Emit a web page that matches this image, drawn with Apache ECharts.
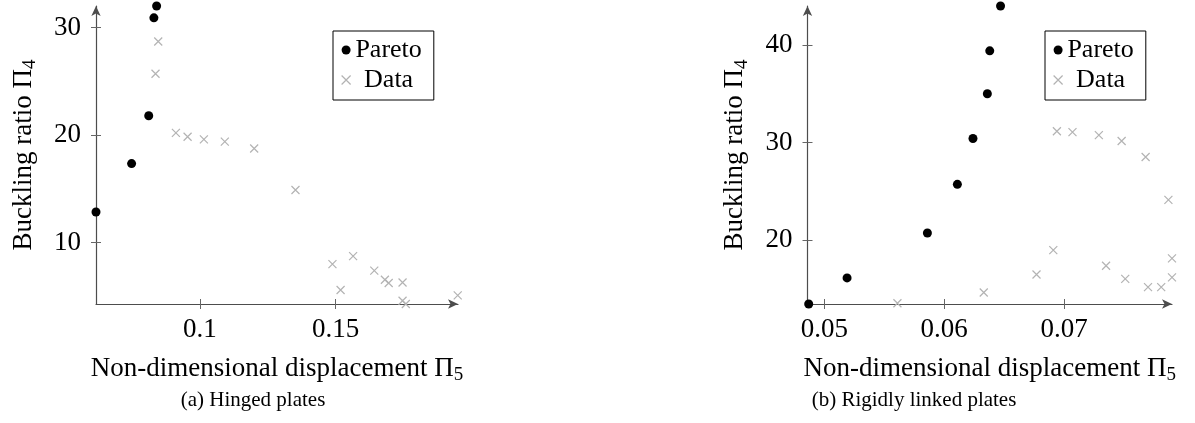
<!DOCTYPE html>
<html>
<head>
<meta charset="utf-8">
<script src="https://cdn.jsdelivr.net/npm/echarts@6/dist/echarts.min.js"></script>
<style>
  html, body { margin: 0; padding: 0; background: #fff; }
  #chart { width: 1195px; height: 423px; }
</style>
</head>
<body>
<div id="chart"></div>
<script>
// (a) hinged plates
const paretoAx = [0.0618, 0.0749, 0.0812, 0.0831, 0.0841];
const paretoAy = [12.85, 17.35, 21.8, 30.9, 32.0];
const dataAx = [0.0847, 0.0837, 0.0912, 0.0955, 0.1015, 0.1092, 0.1200, 0.1352, 0.1488, 0.1564,
                0.1518, 0.1642, 0.1681, 0.1695, 0.1746, 0.1746, 0.1758, 0.1949];
const dataAy = [28.7, 25.7, 20.2, 19.85, 19.6, 19.4, 18.75, 14.9, 8.0, 8.75,
                5.6, 7.4, 6.55, 6.25, 6.3, 4.6, 4.3, 5.1];

// (b) rigidly linked plates
const paretoBx = [0.0487, 0.0519, 0.0586, 0.0611, 0.0624, 0.0636, 0.0638, 0.0647];
const paretoBy = [13.42, 16.1, 20.7, 25.7, 30.4, 35.0, 39.4, 44.0];
const dataBx = [0.0561, 0.0633, 0.0677, 0.0691, 0.0694, 0.0707, 0.0729, 0.0735, 0.0748, 0.0751,
                0.0768, 0.0770, 0.0781, 0.0787, 0.0790, 0.0790];
const dataBy = [13.5, 14.6, 16.45, 18.95, 31.15, 31.05, 30.75, 17.35, 30.15, 16.0,
                28.5, 15.15, 15.15, 24.1, 18.1, 16.15];

// tick labels
const xTicksA = [0.1, 0.15];
const yTicksA = [10, 20, 30];
const xTicksB = [0.05, 0.06, 0.07];
const yTicksB = [20, 30, 40];

const seriesNames = ['Pareto', 'Data'];
const captions = ['(a) Hinged plates', '(b) Rigidly linked plates'];
const xName = 'Non-dimensional displacement Π';
const yName = 'Buckling ratio Π';

const FONT = '"Liberation Serif", "DejaVu Serif", serif';
const AXIS_COLOR = '#4d4d4d';
const CROSS = 'path://M0,0L10,10M10,0L0,10';
const GRAY = '#b3b3b3';

const chart = echarts.init(document.getElementById('chart'));

const zip = (xs, ys) => xs.map((x, i) => [x, ys[i]]);

function mainX(grid, min, max, ticks) {
    return {
        type: 'value', gridIndex: grid, min: min, max: max, position: 'bottom',
        name: '{a|' + xName + '}{b|5}', nameLocation: 'middle', nameGap: 48,
        nameTextStyle: {
            rich: {
                a: { fontFamily: FONT, fontSize: 27, color: '#000' },
                b: { fontFamily: FONT, fontSize: 19, color: '#000', padding: [14, 0, 0, 0] }
            }
        },
        axisLine: { show: true, lineStyle: { color: AXIS_COLOR, width: 1.2 }, symbol: ['none', 'arrow'], symbolSize: [7, 10] },
        axisTick: { show: true, length: 5, customValues: ticks, lineStyle: { color: '#666' } },
        axisLabel: { customValues: ticks, fontFamily: FONT, fontSize: 27, color: '#000', margin: 12 },
        splitLine: { show: false }
    };
}
function innerX(grid, min, max, ticks) {
    return {
        type: 'value', gridIndex: grid, min: min, max: max, position: 'bottom',
        axisLine: { show: false },
        axisTick: { show: true, inside: true, length: 5, customValues: ticks, lineStyle: { color: '#666' } },
        axisLabel: { show: false },
        splitLine: { show: false }
    };
}
function mainY(grid, min, max, ticks) {
    return {
        type: 'value', gridIndex: grid, min: min, max: max, position: 'left',
        name: '{a|' + yName + '}{b|4}', nameLocation: 'middle', nameGap: 56,
        nameTextStyle: {
            rich: {
                a: { fontFamily: FONT, fontSize: 27, color: '#000' },
                b: { fontFamily: FONT, fontSize: 19, color: '#000', padding: [14, 0, 0, 0] }
            }
        },
        axisLine: { show: true, lineStyle: { color: AXIS_COLOR, width: 1.2 }, symbol: ['none', 'arrow'], symbolSize: [7, 10] },
        axisTick: { show: true, length: 5, customValues: ticks, lineStyle: { color: '#666' } },
        axisLabel: { customValues: ticks, fontFamily: FONT, fontSize: 27, color: '#000', margin: 15 },
        splitLine: { show: false }
    };
}
function innerY(grid, min, max, ticks) {
    return {
        type: 'value', gridIndex: grid, min: min, max: max, position: 'left',
        axisLine: { show: false },
        axisTick: { show: true, inside: true, length: 5, customValues: ticks, lineStyle: { color: '#666' } },
        axisLabel: { show: false },
        splitLine: { show: false }
    };
}
function legendAt(left) {
    return {
        left: left, top: 31, orient: 'vertical', selectedMode: false,
        borderColor: '#000', borderWidth: 1, borderRadius: 0,
        padding: [6, 12, 7, 8], itemWidth: 9, itemHeight: 9, itemGap: 4,
        formatter: '{t|{name}}',
        textStyle: { fontFamily: FONT, fontSize: 26, color: '#000',
                     rich: { t: { fontFamily: FONT, fontSize: 26, width: 66, align: 'center' } } },
        data: [
            { name: seriesNames[0], icon: 'circle', itemStyle: { color: '#000', opacity: 1 } },
            { name: seriesNames[1], icon: CROSS, itemStyle: { color: 'transparent', borderColor: GRAY, borderWidth: 1.2, opacity: 1 } }
        ]
    };
}
function paretoSeries(x, y) {
    return { name: seriesNames[0], type: 'scatter', xAxisIndex: x, yAxisIndex: y, clip: false,
             symbol: 'circle', symbolSize: 9, itemStyle: { color: '#000', opacity: 1 }, z: 3 };
}
function dataSeries(x, y) {
    return { name: seriesNames[1], type: 'scatter', xAxisIndex: x, yAxisIndex: y, clip: false,
             symbol: CROSS, symbolSize: 8,
             itemStyle: { color: 'transparent', borderColor: GRAY, borderWidth: 1.2, opacity: 1 }, z: 2 };
}

const option = {
    animation: false,
    backgroundColor: '#fff',
    grid: [
        { left: 96, top: 6, width: 362, height: 298 },
        { left: 807.5, top: 6, width: 364.5, height: 298 }
    ],
    xAxis: [
        mainX(0, 0.0618, 0.195, xTicksA), innerX(0, 0.0618, 0.195, xTicksA),
        mainX(1, 0.0486, 0.0790, xTicksB), innerX(1, 0.0486, 0.0790, xTicksB)
    ],
    yAxis: [
        mainY(0, 4.3, 32.0, yTicksA), innerY(0, 4.3, 32.0, yTicksA),
        mainY(1, 13.42, 44.0, yTicksB), innerY(1, 13.42, 44.0, yTicksB)
    ],
    legend: [legendAt(333), legendAt(1045)],
    series: [
        Object.assign(dataSeries(0, 0), { data: zip(dataAx, dataAy) }),
        Object.assign(paretoSeries(0, 0), { data: zip(paretoAx, paretoAy) }),
        Object.assign(dataSeries(2, 2), { data: zip(dataBx, dataBy) }),
        Object.assign(paretoSeries(2, 2), { data: zip(paretoBx, paretoBy) })
    ],
    graphic: [
        { type: 'text', x: 253, y: 400, style: { text: captions[0], font: '21px ' + FONT, fill: '#000', textAlign: 'center', textVerticalAlign: 'middle' } },
        { type: 'text', x: 914, y: 400, style: { text: captions[1], font: '21px ' + FONT, fill: '#000', textAlign: 'center', textVerticalAlign: 'middle' } }
    ]
};

chart.setOption(option);
</script>
</body>
</html>
